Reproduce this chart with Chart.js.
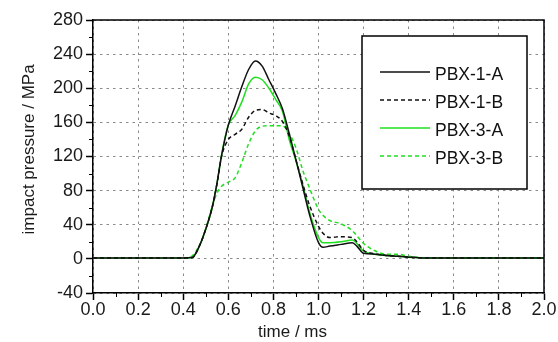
<!DOCTYPE html>
<html><head><meta charset="utf-8">
<script src="https://cdn.jsdelivr.net/npm/chart.js@4/dist/chart.umd.min.js"></script>
<style>html,body{margin:0;padding:0;background:#fff}#wrap{width:558px;height:342px}</style>
</head><body><div id="wrap"><canvas id="c" width="558" height="342"></canvas></div>
<script>
// time axis samples (ms)
const times = [0, 0.1, 0.2, 0.3, 0.4, 0.44, 0.47, 0.5, 0.53, 0.55, 0.57, 0.6, 0.63, 0.66, 0.69, 0.72, 0.75, 0.78, 0.81, 0.84, 0.87, 0.9, 0.93, 0.96, 1.0, 1.02, 1.05, 1.1, 1.15, 1.17, 1.2, 1.25, 1.3, 1.35, 1.4, 1.5, 1.6, 1.8, 2.0];
// impact pressure (MPa)
const pbx1A = [1, 1, 1, 1, 1, 1.5, 14, 35, 62, 89, 121, 157, 179, 202, 222, 232, 226, 210, 194, 176, 147, 116, 84, 52, 19, 13.5, 15, 17, 19, 15, 6.5, 5.5, 4, 3, 2, 1, 1, 1, 1];
const pbx1B = [1, 1, 1, 1, 1, 1.5, 14, 35, 62, 88, 120, 140, 146, 152, 166, 174, 175, 171, 168, 161, 144, 116, 88, 63, 38, 30, 25, 26, 25, 20, 10, 6, 4, 3, 2, 1, 1, 1, 1];
const pbx3A = [1, 1, 1, 1, 1, 2, 14, 35, 62, 89, 122, 157, 168, 184, 205, 213, 210, 200, 187, 173, 140, 115, 87, 55, 25, 19, 19, 20, 22, 18, 9, 5.5, 4, 3, 2, 1, 1, 1, 1];
const pbx3B = [1, 1, 1, 1, 1, 3.6, 15, 35, 63, 77, 85, 90, 95, 113, 135, 150, 155.5, 156, 156, 156, 147, 130, 104, 83, 58, 51, 45, 41, 33, 27, 18, 9.5, 5.5, 5.5, 3, 1, 1, 1, 1];
const seriesNames = ['PBX-1-A', 'PBX-1-B', 'PBX-3-A', 'PBX-3-B'];
const xTicks = [0, 0.2, 0.4, 0.6, 0.8, 1.0, 1.2, 1.4, 1.6, 1.8, 2.0];
const yTicks = [-40, 0, 40, 80, 120, 160, 200, 240, 280];
const xMinor = [0.1, 0.3, 0.5, 0.7, 0.9, 1.1, 1.3, 1.5, 1.7, 1.9];
const yMinor = [-20, 20, 60, 100, 140, 180, 220, 260];

const FONT = '"Liberation Sans", Arial, sans-serif';
const GREEN = '#1fe01f';
const BLACK = '#111111';

function pts(arr) { return times.map((t, i) => ({ x: t, y: arr[i] })); }
function ds(label, arr, color, dash) {
  return { label, data: pts(arr), borderColor: color, borderWidth: 1.5, borderDash: dash,
    pointRadius: 0, fill: false, cubicInterpolationMode: 'monotone' };
}

const decor = {
  id: 'decor',
  afterDraw(chart) {
    const { ctx, chartArea: a, scales: { x, y } } = chart;
    ctx.save();
    ctx.strokeStyle = '#000'; ctx.lineWidth = 1.5;
    ctx.beginPath();
    ctx.moveTo(a.left, a.top); ctx.lineTo(a.right, a.top); ctx.lineTo(a.right, a.bottom);
    ctx.stroke();
    ctx.lineWidth = 1;
    ctx.beginPath();
    xMinor.forEach(v => { const px = Math.round(x.getPixelForValue(v)) + 0.5; ctx.moveTo(px, a.bottom); ctx.lineTo(px, a.bottom + 4); });
    yMinor.forEach(v => { const py = Math.round(y.getPixelForValue(v)) + 0.5; ctx.moveTo(a.left, py); ctx.lineTo(a.left - 4, py); });
    ctx.stroke();
    // legend box
    const bw = 165, bh = 153;
    const bx = a.right - 17 - bw, by = a.top + 16;
    ctx.fillStyle = '#fff'; ctx.fillRect(bx, by, bw, bh);
    ctx.strokeStyle = '#000'; ctx.lineWidth = 1.5; ctx.strokeRect(bx, by, bw, bh);
    chart.data.datasets.forEach((d, i) => {
      const ly = by + 36 + i * 28;
      ctx.strokeStyle = d.borderColor; ctx.lineWidth = 1.5; ctx.setLineDash(d.borderDash || []);
      ctx.beginPath(); ctx.moveTo(bx + 18, ly); ctx.lineTo(bx + 68, ly); ctx.stroke();
      ctx.setLineDash([]);
      ctx.fillStyle = '#111'; ctx.font = '17.5px ' + FONT; ctx.textBaseline = 'middle'; ctx.textAlign = 'left';
      ctx.fillText(d.label, bx + 73, ly + 3);
    });
    ctx.restore();
  }
};

new Chart(document.getElementById('c'), {
  type: 'line',
  data: { datasets: [
    ds(seriesNames[0], pbx1A, BLACK, []),
    ds(seriesNames[1], pbx1B, BLACK, [4, 3]),
    ds(seriesNames[2], pbx3A, GREEN, []),
    ds(seriesNames[3], pbx3B, GREEN, [4, 3])
  ]},
  options: {
    responsive: false, animation: false,
    layout: { padding: { top: 20, right: 14, left: 21, bottom: 1 } },
    plugins: { legend: { display: false }, tooltip: { enabled: false } },
    scales: {
      x: {
        type: 'linear', min: 0, max: 2,
        afterBuildTicks: s => { s.ticks = xTicks.map(v => ({ value: v })); },
        ticks: { callback: v => Number(v).toFixed(1), font: { family: FONT, size: 18, lineHeight: 1 }, color: '#1a1a1a', padding: 1, maxRotation: 0, autoSkip: false },
        grid: { color: '#8a8a8a', lineWidth: 1, tickColor: '#000', tickLength: 7, tickWidth: 1.5 },
        border: { color: '#000', width: 1.5, dash: [2.5, 4] },
        title: { display: true, text: 'time / ms' + '           ', font: { family: FONT, size: 17, lineHeight: 1 }, color: '#1a1a1a', padding: { top: 4, bottom: 0 } }
      },
      y: {
        type: 'linear', min: -40, max: 280,
        afterBuildTicks: s => { s.ticks = yTicks.map(v => ({ value: v })); },
        ticks: { font: { family: FONT, size: 18, lineHeight: 1 }, color: '#1a1a1a', padding: 3, autoSkip: false },
        grid: { color: '#8a8a8a', lineWidth: 1, tickColor: '#000', tickLength: 7, tickWidth: 1.5 },
        border: { color: '#000', width: 1.5, dash: [2.5, 4] },
        title: { display: true, text: '   ' + 'impact pressure / MPa', font: { family: FONT, size: 17, lineHeight: 1 }, color: '#1a1a1a', padding: { top: 0, bottom: 12 } }
      }
    }
  },
  plugins: [decor]
});
</script>
</body></html>
